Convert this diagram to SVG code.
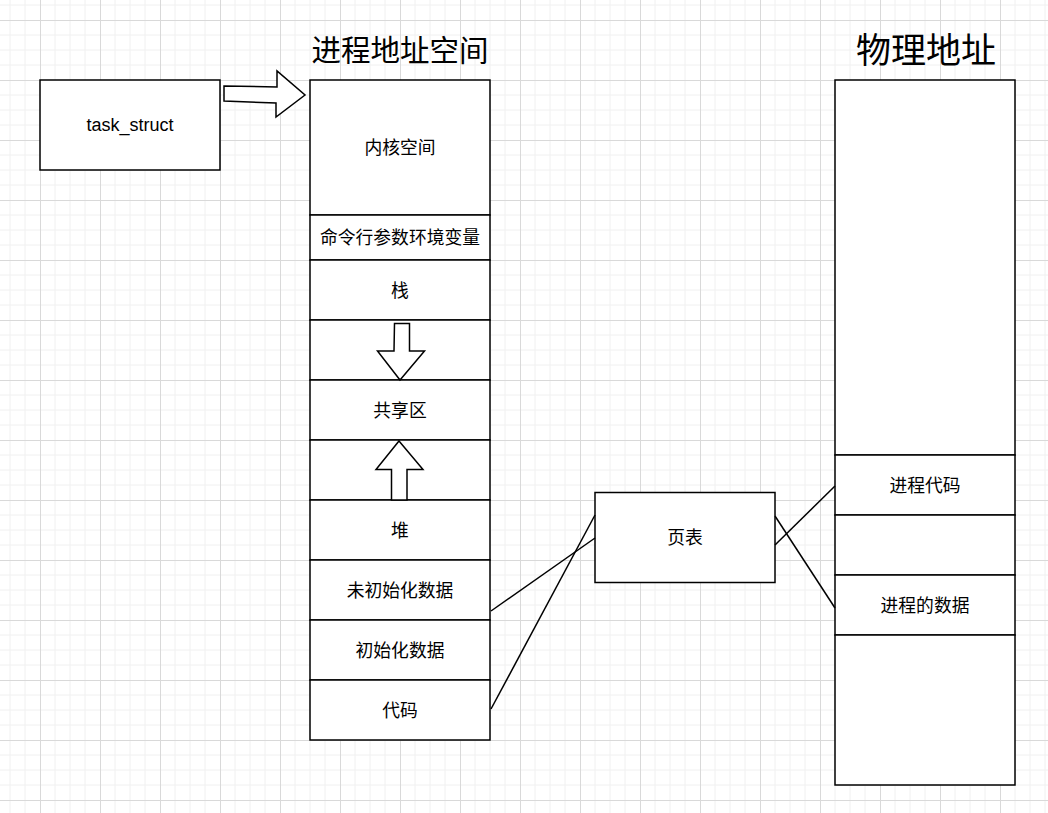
<svg xmlns="http://www.w3.org/2000/svg" width="1048" height="813" viewBox="0 0 1048 813">
<defs>
<pattern id="grid" patternUnits="userSpaceOnUse" x="40" y="20" width="60" height="60">
<path d="M15 0V60M30 0V60M45 0V60M0 15H60M0 30H60M0 45H60" stroke="#f0f0f0" stroke-width="1" fill="none"/>
<path d="M0.5 0V60M0 0.5H60" stroke="#d9d9d9" stroke-width="1" fill="none"/>
</pattern>
</defs>
<style>
.box{fill:#fff;stroke:#000;stroke-width:1.5}
.arr{fill:#fff;stroke:#000;stroke-width:1.5;stroke-linejoin:miter}
.lbl{font-family:"Noto Sans CJK SC","Liberation Sans",sans-serif;font-size:17.8px;fill:#000;text-anchor:middle;dominant-baseline:central}
.en{font-family:"Liberation Sans",Arial,sans-serif;font-size:18px;fill:#000;text-anchor:middle;dominant-baseline:central}
.title{font-family:"Noto Sans CJK SC",sans-serif;fill:#000;text-anchor:middle}
.conn{stroke:#000;stroke-width:1.5;fill:none}
</style>
<rect width="1048" height="813" fill="#fff"/>
<rect width="1048" height="813" fill="url(#grid)"/>

<text class="title" x="400" y="61" font-size="29.5">进程地址空间</text>
<text class="title" x="926" y="63" font-size="35">物理地址</text>

<g id="task_struct">
<rect class="box" x="40" y="80" width="180" height="90"/>
<text class="en" x="130" y="125">task_struct</text>
</g>

<g id="arrow-right">
<polygon class="arr" points="224,86 277,87 277,71 305,95 276,117 276,103 224,101"/>
</g>

<g id="address-space">
<rect class="box" x="310" y="80" width="180" height="135"/>
<text class="lbl" x="400" y="145.5">内核空间</text>
<rect class="box" x="310" y="215" width="180" height="45"/>
<text class="lbl" x="400" y="235.5">命令行参数环境变量</text>
<rect class="box" x="310" y="260" width="180" height="60"/>
<text class="lbl" x="400" y="288.5">栈</text>
<rect class="box" x="310" y="320" width="180" height="60"/>
<rect class="box" x="310" y="380" width="180" height="60"/>
<text class="lbl" x="400" y="408.5">共享区</text>
<rect class="box" x="310" y="440" width="180" height="60"/>
<rect class="box" x="310" y="500" width="180" height="60"/>
<text class="lbl" x="400" y="528.5">堆</text>
<rect class="box" x="310" y="560" width="180" height="60"/>
<text class="lbl" x="400" y="588.5">未初始化数据</text>
<rect class="box" x="310" y="620" width="180" height="60"/>
<text class="lbl" x="400" y="648.5">初始化数据</text>
<rect class="box" x="310" y="680" width="180" height="60"/>
<text class="lbl" x="400" y="708.5">代码</text>
</g>

<g id="arrow-down">
<polygon class="arr" points="394.5,323.5 409.5,323.5 409.5,351 424.5,351 400,380 377.5,351 394,351"/>
</g>
<g id="arrow-up">
<polygon class="arr" points="399,441 423,469.5 407,469.5 407,500 391.5,500 391.5,469.5 376,469.5"/>
</g>

<g id="page-table">
<rect class="box" x="595" y="492.5" width="180" height="90" stroke="#333"/>
<text class="lbl" x="685" y="535.5">页表</text>
</g>

<g id="physical">
<rect class="box" x="835" y="80" width="180" height="375"/>
<rect class="box" x="835" y="455" width="180" height="60"/>
<text class="lbl" x="925" y="483.5">进程代码</text>
<rect class="box" x="835" y="515" width="180" height="60"/>
<rect class="box" x="835" y="575" width="180" height="60"/>
<text class="lbl" x="925" y="603.5">进程的数据</text>
<rect class="box" x="835" y="635" width="180" height="150"/>
</g>

<g id="connectors">
<line class="conn" x1="491" y1="611" x2="595" y2="538"/>
<line class="conn" x1="491" y1="709" x2="595" y2="515"/>
<line class="conn" x1="775" y1="545" x2="835" y2="486"/>
<line class="conn" x1="775" y1="516" x2="835" y2="608"/>
</g>
</svg>
